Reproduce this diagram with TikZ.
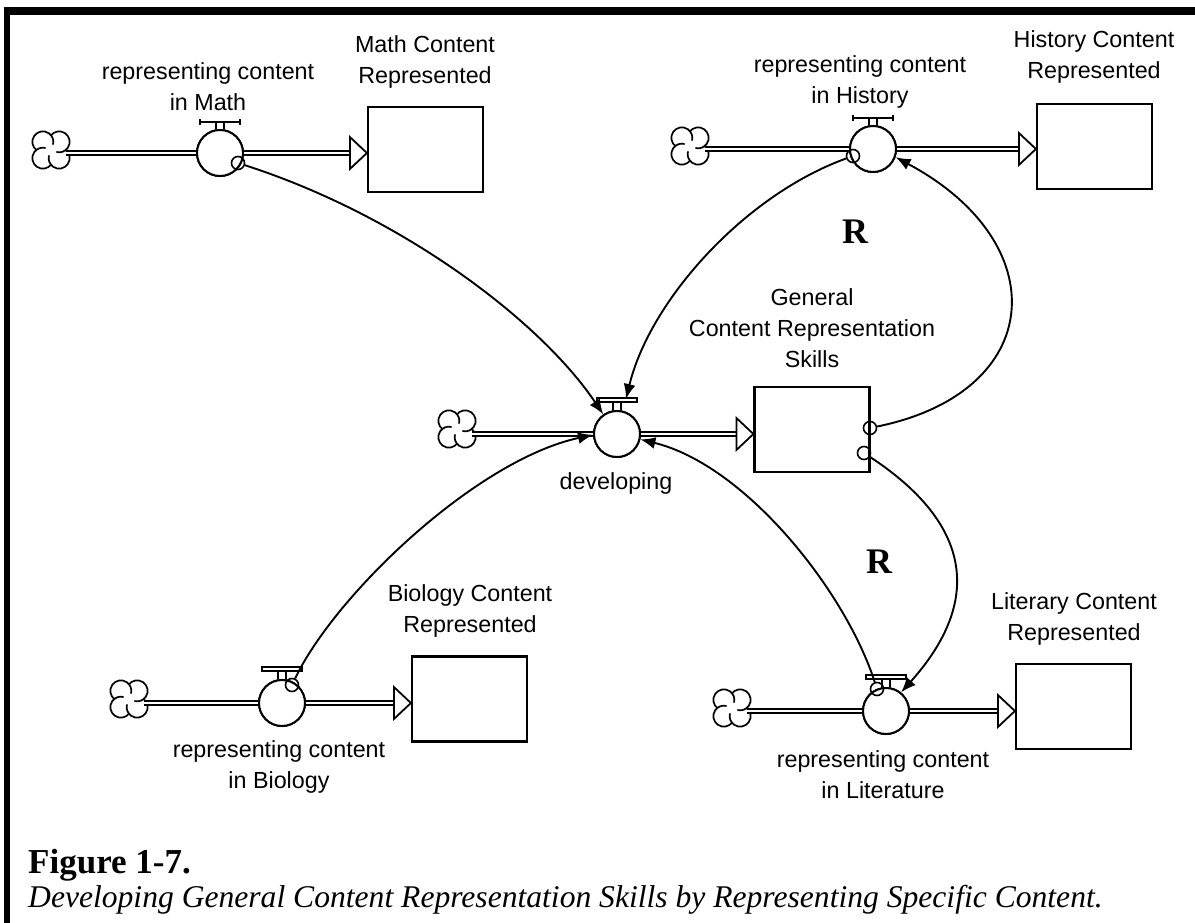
\documentclass[tikz,border=0pt]{standalone}
\usepackage{fontspec}
\setmainfont{Liberation Sans}
\newfontfamily\capfont{Liberation Serif}
\usetikzlibrary{arrows.meta,calc}
\newcommand{\valvetopA}[1]{%
  \draw[line width=1.6pt] ($(#1.north)+(-4,0)$) -- ++(0,-7) ($(#1.north)+(4,0)$) -- ++(0,-7);
  \draw[line width=1.8pt] ($(#1.north)+(-20,-7)$) -- ++(40,0);
  \draw[line width=1.4pt] ($(#1.north)+(-20,-10)$) -- ++(0,6) ($(#1.north)+(20,-10)$) -- ++(0,6);}
\newcommand{\valvetopB}[1]{%
  \draw[line width=1.6pt] ($(#1.north)+(-4,0)$) -- ++(0,-8) ($(#1.north)+(4,0)$) -- ++(0,-8);
  \draw[line width=1.4pt,fill=white] ($(#1.north)+(-20,-8)$) rectangle ++(40,-4);}
\tikzset{cloudsym/.pic={
  \begin{scope}[x=1pt,y=1pt]
  \foreach \a in {45,135,225,315} {
    \draw[line width=1.7pt] ($(\a:11.5)+(\a+100:10.5)$) arc[start angle=\a+100, end angle=\a-150, radius=10.5];
  }
  \end{scope}}}
\begin{document}
\begin{tikzpicture}[x=1pt,y=-1pt,
  lbl/.style={font=\fontsize{23.3}{31}\selectfont, align=center, inner sep=0pt},
  stock/.style={draw, line width=2.2pt, minimum width=115pt, minimum height=85pt, inner sep=0pt},
  valve/.style={circle, draw, line width=2pt, minimum size=46pt, inner sep=0pt, fill=white},
  cloudnode/.style={circle, minimum size=30pt, inner sep=0pt},
  pipe/.style={double, double distance=2.6pt, line width=1.8pt},
  pipehead/.style={line width=1.8pt, fill=white},
  conn/.style={line width=1.9pt, -{Latex[length=15pt,width=12pt]}},
  tap/.style={circle, draw, line width=1.6pt, minimum size=13pt, inner sep=0pt},
  rmark/.style={font=\capfont\bfseries\fontsize{36}{40}\selectfont, inner sep=0pt}
]
\useasboundingbox (0,0) rectangle (1195,923);
\fill[white] (0,0) rectangle (1195,923);
% frame
\fill (4,7) rectangle (1195,15);
\fill (4,7) rectangle (10,923);

% ---------- stocks ----------
\node[stock] (bm) at (425.5,149.5) {};
\node[stock] (bh) at (1094.5,146.5) {};
\node[stock] (bg) at (812,429.5) {};
\node[stock] (bb) at (469.5,699) {};
\node[stock] (bl) at (1073.5,706.5) {};

% ---------- clouds ----------
\node[cloudnode] (cm) at (51,150) {}; \pic at (cm) {cloudsym};
\node[cloudnode] (ch) at (690,146) {}; \pic at (ch) {cloudsym};
\node[cloudnode] (cd) at (457,429) {}; \pic at (cd) {cloudsym};
\node[cloudnode] (cb) at (129,699) {}; \pic at (cb) {cloudsym};
\node[cloudnode] (cl) at (732,708) {}; \pic at (cl) {cloudsym};

% ---------- valves ----------
\node[valve] (vm) at (220,153) {};
\node[valve] (vh) at (873,149) {};
\node[valve] (vd) at (617,434) {};
\node[valve] (vb) at (282,703) {};
\node[valve] (vl) at (886,711) {};

% ---------- pipes ----------
\foreach \c/\v/\b in {cm/vm/bm, ch/vh/bh, cd/vd/bg, cb/vb/bb, cl/vl/bl} {
  \draw[pipe] (\c.east |- \v.west) -- (\v.west);
  \coordinate (tip\v) at (\b.west |- \v.east);
  \draw[pipe] (\v.east) -- ($(tip\v)+(-17,0)$);
  \draw[pipehead] (tip\v) -- ++(-17,-16) -- ++(0,32) -- cycle;
}
\node[valve] at (vm) {};
\node[valve] at (vh) {};
\node[valve] at (vd) {};
\node[valve] at (vb) {};
\node[valve] at (vl) {};
\valvetopA{vm}
\valvetopA{vh}
\valvetopB{vd}
\valvetopB{vb}
\valvetopB{vl}

% ---------- taps ----------
\node[tap] (tm) at (238,163) {};
\node[tap] (th) at (853,156) {};
\node[tap] (tg1) at (870,428) {};
\node[tap] (tg2) at (864,453) {};
\node[tap] (tb) at (292,685) {};
\node[tap] (tl) at (877,689) {};
\coordinate (vdtop) at (626,399);

% ---------- connectors ----------
\draw[conn] (tm) .. controls (400,215) and (540,320) .. (vd.125);
\draw[conn] (th) .. controls (745,195) and (650,300) .. (vdtop);
\draw[conn] (tg1) .. controls (1046,392) and (1056,243) .. (vh.-20);
\draw[conn] (tg2) .. controls (972,524) and (983,601) .. (vl.51);
\draw[conn] (tl) .. controls (845,590) and (745,465) .. (vd.-13);
\draw[conn] (tb) .. controls (335,595) and (476,460) .. (vd.182);

% ---------- labels ----------
\node[lbl] (lvm) at (208,87) {representing content\\in Math};
\node[lbl] (lbm) at (425,62) {Math Content\\Represented};
\node[lbl] (lvh) at (860,82) {representing content\\in History};
\node[lbl] (lbh) at (1094,57) {History Content\\Represented};
\node[lbl] (lbg) at (812,328) {General\\Content Representation\\Skills};
\node[lbl] (lvd) at (616,483) {developing};
\node[lbl] (lvb) at (279,767) {representing content\\in Biology};
\node[lbl] (lbb) at (470,611) {Biology Content\\Represented};
\node[lbl] (lvl) at (883,775) {representing content\\in Literature};
\node[lbl] (lbLit) at (1074,619) {Literary Content\\Represented};
\node[rmark] (r1) at (855,232) {R};
\node[rmark] (r2) at (879,562) {R};

% ---------- caption ----------
\node[anchor=base west, font=\capfont\bfseries\fontsize{35}{40}\selectfont, inner sep=0pt] (fig) at (28,873) {Figure 1-7.};
\node[anchor=base west, font=\capfont\itshape\fontsize{31.6}{36}\selectfont, inner sep=0pt] (cap) at (28,907) {Developing General Content Representation Skills by Representing Specific Content.};
\end{tikzpicture}
\end{document}
